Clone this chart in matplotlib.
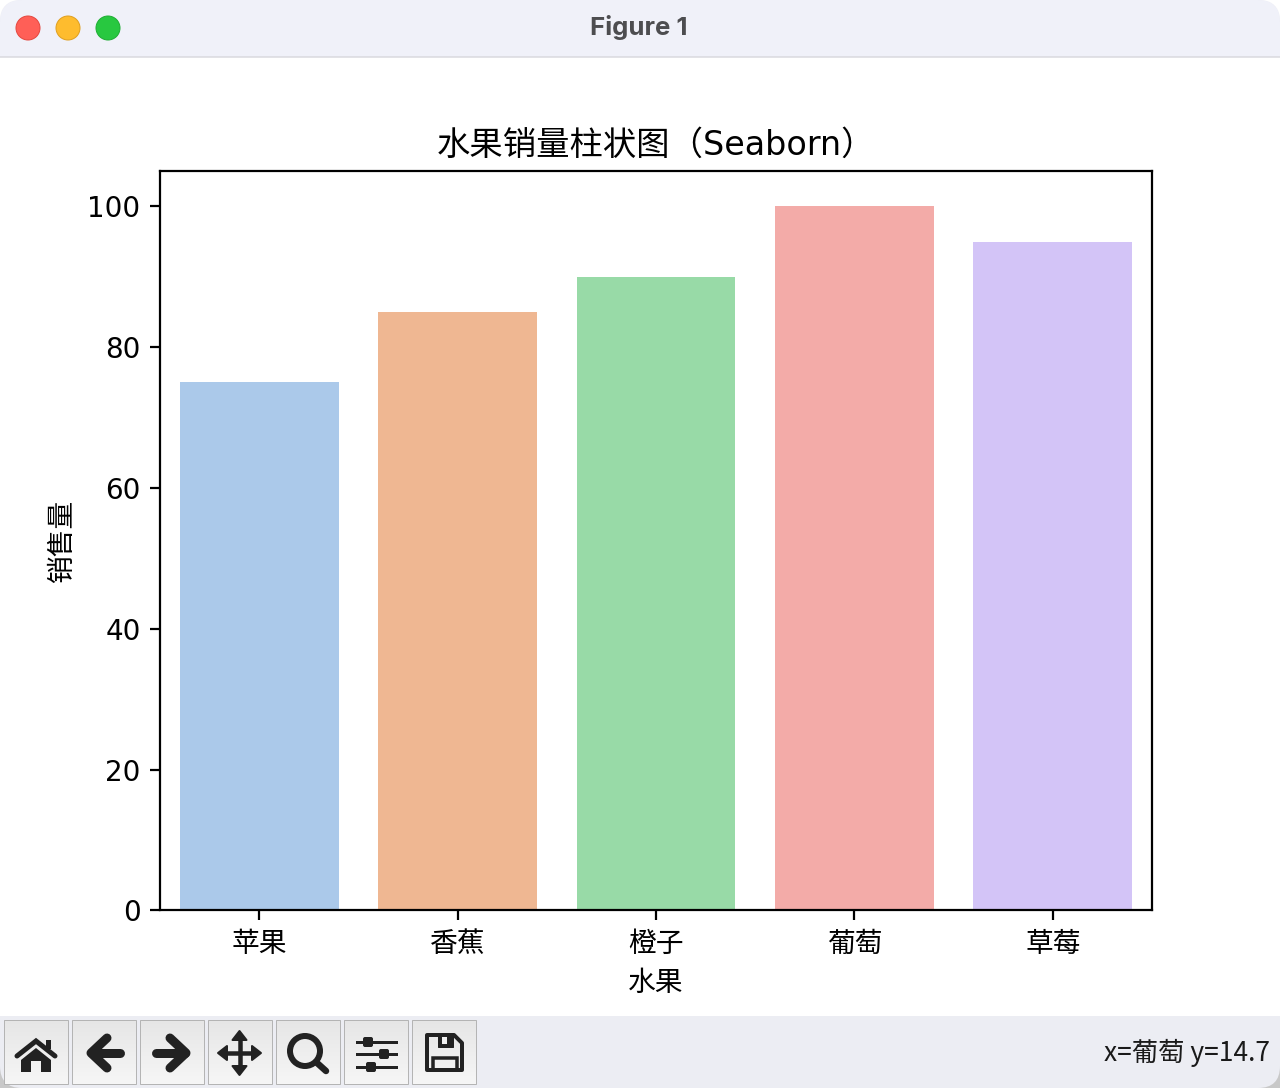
import numpy as np
import matplotlib
matplotlib.use("Agg")
import matplotlib.pyplot as plt
from matplotlib.patches import Circle, FancyBboxPatch, Polygon, Rectangle
import seaborn as sns

plt.rcParams["font.family"] = ["DejaVu Sans", "Noto Sans CJK SC"]

fruits = ["苹果", "香蕉", "橙子", "葡萄", "草莓"]
sales = [75, 85, 90, 100, 95]

DPI = 200
fig = plt.figure(figsize=(6.4, 5.44), dpi=DPI, facecolor="white")

# window around the canvas, drawn in pixels
win = fig.add_axes([0, 0, 1, 1], zorder=0)
win.set_xlim(0, 1280)
win.set_ylim(1088, 0)
win.axis("off")


def px(w):
    return w * 72 / DPI


win.add_patch(Rectangle((0, 1000), 1280, 88, color="#c8c8c8", lw=0))
win.add_patch(FancyBboxPatch((0, 0), 1280, 1088, boxstyle="round,pad=0,rounding_size=22",
                             fc="#ecedf3", ec="none"))
win.add_patch(FancyBboxPatch((0, 0), 1280, 80, boxstyle="round,pad=0,rounding_size=22",
                             fc="#f0f1f9", ec="none"))
win.add_patch(Rectangle((0, 57), 1280, 959, fc="white", ec="none"))
win.plot([0, 1280], [56.5, 56.5], color="#d9d9de", lw=px(1.5), solid_capstyle="butt")

for cx, fc, ec in [(28, "#ff5f57", "#e5483f"), (68, "#febc2e", "#e0a020"), (108, "#28c840", "#1fae34")]:
    win.add_patch(Circle((cx, 28), 12, fc=fc, ec=ec, lw=px(1)))
win.text(639, 27.5, "Figure 1", ha="center", va="center", family="Inter", weight="bold",
         fontsize=9.3, color="#4d4d50")

# toolbar buttons
grad = np.linspace(0, 1, 64).reshape(-1, 1)
btn_cmap = matplotlib.colors.LinearSegmentedColormap.from_list("btn", ["#e6e6e6", "#f6f6f6"])
for x0 in [4, 72, 140, 208, 276, 344, 412]:
    win.imshow(grad, extent=(x0, x0 + 64, 1084, 1020), cmap=btn_cmap, aspect="auto", zorder=1)
    win.add_patch(Rectangle((x0, 1020), 64, 64, fc="none", ec="#b4b4b4", lw=px(1), zorder=2))
win.set_xlim(0, 1280)
win.set_ylim(1088, 0)

ic = "#222222"
# home
win.plot([17, 36, 55], [1056, 1041, 1056], color=ic, lw=px(5), zorder=3, solid_capstyle="round", solid_joinstyle="miter")
win.add_patch(Polygon([(21, 1060), (36, 1048), (51, 1060), (51, 1072), (41, 1072), (41, 1061), (31, 1061),
                       (31, 1072), (21, 1072)], fc=ic, ec="none", zorder=3))
win.add_patch(Rectangle((46, 1040), 5, 9, fc=ic, ec="none", zorder=3))
# back / forward
for shaft, head in [(([92, 120], [1053, 1053]), ([107, 91, 107], [1038, 1053, 1068])),
                    (([156, 185], [1053, 1053]), ([170, 186, 170], [1038, 1053, 1068]))]:
    win.plot(shaft[0], shaft[1], color=ic, lw=px(9), zorder=3, solid_capstyle="round")
    win.plot(head[0], head[1], color=ic, lw=px(9), zorder=3, solid_capstyle="round", solid_joinstyle="round")
# move
win.plot([226, 253], [1053, 1053], color=ic, lw=px(4.5), zorder=3)
win.plot([239.5, 239.5], [1039, 1066], color=ic, lw=px(4.5), zorder=3)
for tri in [[(218, 1053), (227, 1046), (227, 1060)], [(261, 1053), (252, 1046), (252, 1060)],
            [(239.5, 1031), (232.5, 1040), (246.5, 1040)], [(239.5, 1075), (232.5, 1066), (246.5, 1066)]]:
    win.add_patch(Polygon(tri, fc=ic, ec=ic, lw=px(2), joinstyle="round", zorder=3))
# zoom
win.add_patch(Circle((305, 1051), 15, fc="none", ec=ic, lw=px(6), zorder=3))
win.plot([316, 326], [1062, 1071], color=ic, lw=px(6.5), zorder=3, solid_capstyle="round")
# sliders
for y, kx in [(1042, 368), (1054, 384), (1067, 371)]:
    win.plot([357, 396], [y, y], color=ic, lw=px(3), zorder=3)
    win.add_patch(FancyBboxPatch((kx - 5, y - 5), 10, 10, boxstyle="round,pad=0,rounding_size=2",
                                 fc=ic, ec="none", zorder=4))
# save
win.add_patch(Polygon([(427, 1035), (454, 1035), (462, 1043), (462, 1070), (427, 1070)], fc="none", ec=ic,
                      lw=px(4), joinstyle="round", zorder=3))
win.add_patch(Polygon([(438, 1035), (453, 1035), (453, 1047), (438, 1047)], fc=ic, ec=ic, lw=px(1), zorder=3))
win.add_patch(Rectangle((442, 1037), 5, 7, fc="#f0f0f0", ec="none", zorder=4))
win.add_patch(Rectangle((433, 1058), 24, 12, fc="none", ec=ic, lw=px(3.5), zorder=3))

win.text(1270, 1053, "x=葡萄 y=14.7", ha="right", va="center", fontsize=9.5, color="#1a1a1a",
         family=["Noto Sans CJK SC", "DejaVu Sans"])

# the chart itself: 640x480 canvas at 2x, default subplot box
canvas_bottom = 1016
left = 0.125
width = 0.775
bottom = (1088 - (canvas_bottom - 0.11 * 960)) / 1088
height = 0.77 * 960 / 1088
ax = fig.add_axes([left, bottom, width, height], zorder=5)

sns.barplot(x=fruits, y=sales, hue=fruits, palette="pastel", legend=False, ax=ax)
ax.set_title("水果销量柱状图（Seaborn）")
ax.set_xlabel("水果")
ax.set_ylabel("销售量")

fig.savefig("out.png", dpi=DPI, facecolor=fig.get_facecolor())
